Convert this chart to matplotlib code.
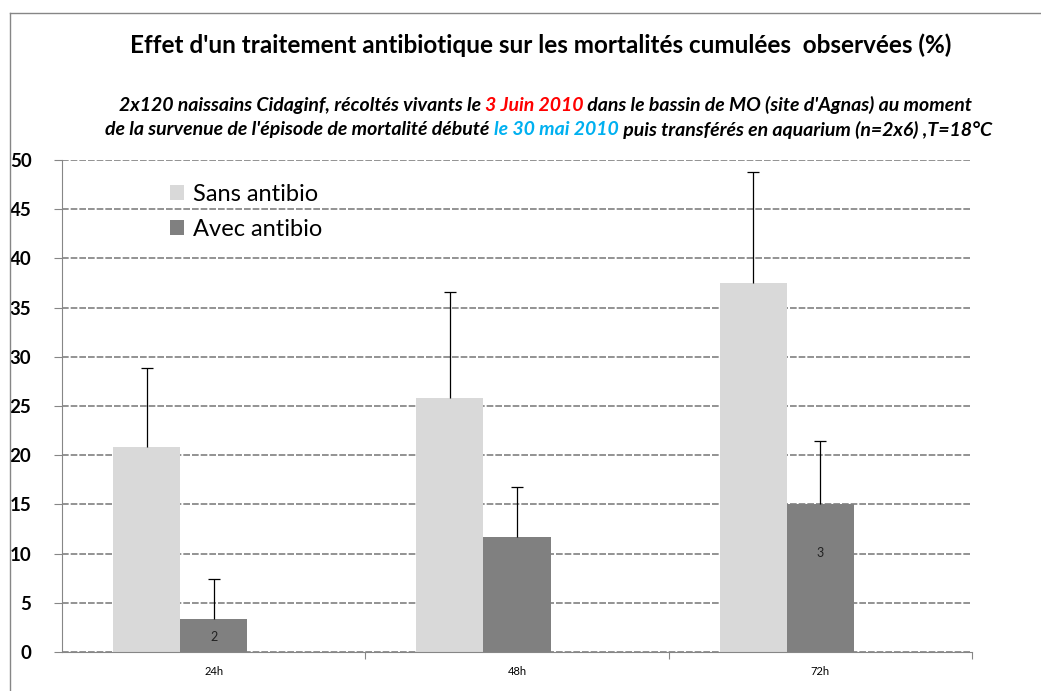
import numpy as np
import matplotlib.pyplot as plt
from matplotlib.lines import Line2D

plt.rcParams['font.family'] = ['Lato', 'DejaVu Sans']

# mortalités cumulées (%) et écarts-types
durees = ["24h", "48h", "72h"]
sans_antibio = [20.8, 25.8, 37.5]
avec_antibio = [3.4, 11.7, 15.0]
err_sans = [8.1, 10.8, 11.3]
err_avec = [4.0, 5.1, 6.4]
etiquettes_avec = {0: ("2", 1.5), 2: ("3", 10.1)}

clair = "#d9d9d9"
fonce = "#808080"
gris_axe = "#868686"

fig = plt.figure(figsize=(10.41, 6.91), dpi=100)
ax = fig.add_axes([0.0596, 0.0564, 0.8741, 0.7121])

x = np.arange(len(durees))
w = 0.221
# trois emplacements par catégorie, le troisième reste vide
x_sans = x - w
x_avec = x
ax.bar(x_sans, sans_antibio, w, color=clair, label="Sans antibio", zorder=2)
ax.bar(x_avec, avec_antibio, w, color=fonce, label="Avec antibio", zorder=2)
for xs, ys, es in [(x_sans, sans_antibio, err_sans), (x_avec, avec_antibio, err_avec)]:
    _, caps, _ = ax.errorbar(xs, ys, yerr=[np.zeros(3), es], fmt="none",
                             ecolor="black", elinewidth=0.9, capsize=4,
                             capthick=0.9, zorder=3)
    caps[0].set_visible(False)  # pas de trait en bas

for i, (txt, yy) in etiquettes_avec.items():
    ax.text(x_avec[i], yy, txt, ha="center", va="center", fontsize=9,
            color="#222222", zorder=4)

ax.set_xlim(-0.5, 2.5)
ax.set_ylim(0, 50)
ax.set_yticks(np.arange(0, 51, 5))
ax.yaxis.grid(True, linestyle=(0, (4, 1.2)), color=fonce, linewidth=1.2, zorder=1)
ax.set_axisbelow(True)

# ticks aux limites des catégories, étiquettes au centre
ax.set_xticks([0.5, 1.5, 2.5])
ax.set_xticklabels([])
ax.set_xticks(x, minor=True)
ax.set_xticklabels(durees, minor=True, fontsize=8)
ax.tick_params(axis="x", which="minor", length=0, pad=10)
ax.tick_params(axis="x", which="major", length=5, color=gris_axe, direction="out")
ax.tick_params(axis="y", length=6, color=gris_axe, labelsize=13.5, pad=16)
for lab in ax.get_yticklabels():
    lab.set_fontweight("bold")

for s in ["top", "right"]:
    ax.spines[s].set_visible(False)
ax.spines["left"].set_color(gris_axe)
ax.spines["bottom"].set_color(gris_axe)

ax.legend(loc="upper left", bbox_to_anchor=(0.095, 0.995), frameon=False,
          fontsize=17, handlelength=0.6, handleheight=0.6, handletextpad=0.4,
          labelspacing=0.6)

# cadre du graphique (bords gauche et haut)
fig.add_artist(Line2D([0.0096, 0.0096], [0, 0.981], color=gris_axe, lw=1,
                      transform=fig.transFigure))
fig.add_artist(Line2D([0.0096, 1.0], [0.981, 0.981], color=gris_axe, lw=1,
                      transform=fig.transFigure))

fig.text(0.519, 0.934, "Effet d'un traitement antibiotique sur les mortalités cumulées  observées (%)",
         ha="center", va="center", fontsize=17.5, fontweight="bold")


def ligne_coloree(morceaux, xc, y, **kw):
    r = fig.canvas.get_renderer()
    textes = []
    for txt, col in morceaux:
        t = fig.text(0, y, txt, color=col, va="center", **kw)
        textes.append(t)
    largeurs = [t.get_window_extent(r).width for t in textes]
    total = sum(largeurs)
    x0 = xc * fig.bbox.width - total / 2
    for t, lw in zip(textes, largeurs):
        t.set_x(x0 / fig.bbox.width)
        x0 += lw


style = dict(fontsize=14, fontweight="bold", fontstyle="italic")
ligne_coloree([("2x120 naissains Cidaginf, récoltés vivants le ", "black"),
               ("3 Juin 2010", "#ff0000"),
               (" dans le bassin de MO (site d'Agnas) au moment", "black")],
              0.524, 0.848, **style)
ligne_coloree([("de la survenue de l'épisode de mortalité débuté ", "black"),
               ("le 30 mai 2010", "#00b0f0"),
               (" puis transférés en aquarium (n=2x6) ,T=18°C", "black")],
              0.527, 0.812, **style)

fig.savefig("out.png", dpi=100)
